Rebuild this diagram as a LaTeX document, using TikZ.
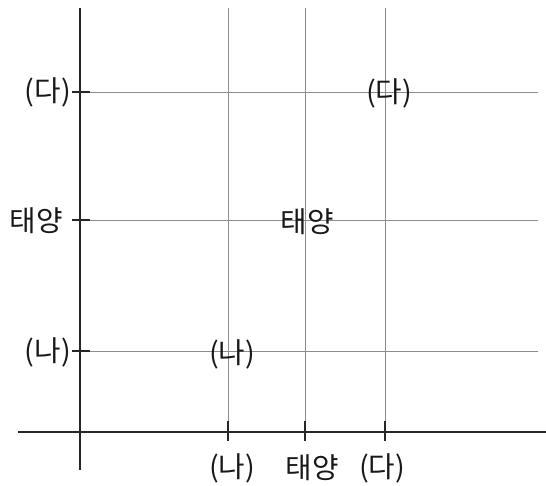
\documentclass[tikz,border=0pt]{standalone}
\usepackage{fontspec}
\newfontfamily\kr{Noto Sans CJK KR}[Scale=1.2]
\begin{document}
\begin{tikzpicture}[x=1pt,y=-1pt,
  axis/.style={draw=black!85,line width=2pt},
  gridline/.style={draw=black!45,line width=0.9pt},
  tickmark/.style={draw=black!85,line width=2pt},
  lab/.style={font=\kr\fontsize{24}{26}\selectfont,inner sep=0pt,text=black!90}]
\useasboundingbox (0,0) rectangle (546,486);
% axes
\coordinate (ytop) at (80,8);
\coordinate (ybot) at (80,470);
\coordinate (xl) at (18,432);
\coordinate (xr) at (546,432);
% grid
\foreach \n/\y in {a/92,b/220,c/351}{
  \coordinate (h\n1) at (80,\y); \coordinate (h\n2) at (538,\y);
  \draw[gridline] (h\n1) -- (h\n2);
  \coordinate (t\n1) at (72,\y); \coordinate (t\n2) at (90,\y);
  \draw[tickmark] (t\n1) -- (t\n2);
}
\foreach \n/\x in {a/228,b/305,c/385}{
  \coordinate (v\n1) at (\x,8); \coordinate (v\n2) at (\x,432);
  \draw[gridline] (v\n1) -- (v\n2);
  \coordinate (s\n1) at (\x,421); \coordinate (s\n2) at (\x,441);
  \draw[tickmark] (s\n1) -- (s\n2);
}
\draw[axis] (ytop) -- (ybot);
\draw[axis] (xl) -- (xr);
% left labels
\node[lab,anchor=east] (l1) at (71,92) {(다)};
\node[lab,anchor=east] (l2) at (63,221) {태양};
\node[lab,anchor=east] (l3) at (71,352) {(나)};
% interior labels
\node[lab] (i1) at (389,93) {(다)};
\node[lab] (i2) at (307,222) {태양};
\node[lab] (i3) at (232,354) {(나)};
% bottom labels
\node[lab] (b1) at (232,468) {(나)};
\node[lab] (b2) at (312,468) {태양};
\node[lab] (b3) at (382,468) {(다)};
\end{tikzpicture}
\end{document}
